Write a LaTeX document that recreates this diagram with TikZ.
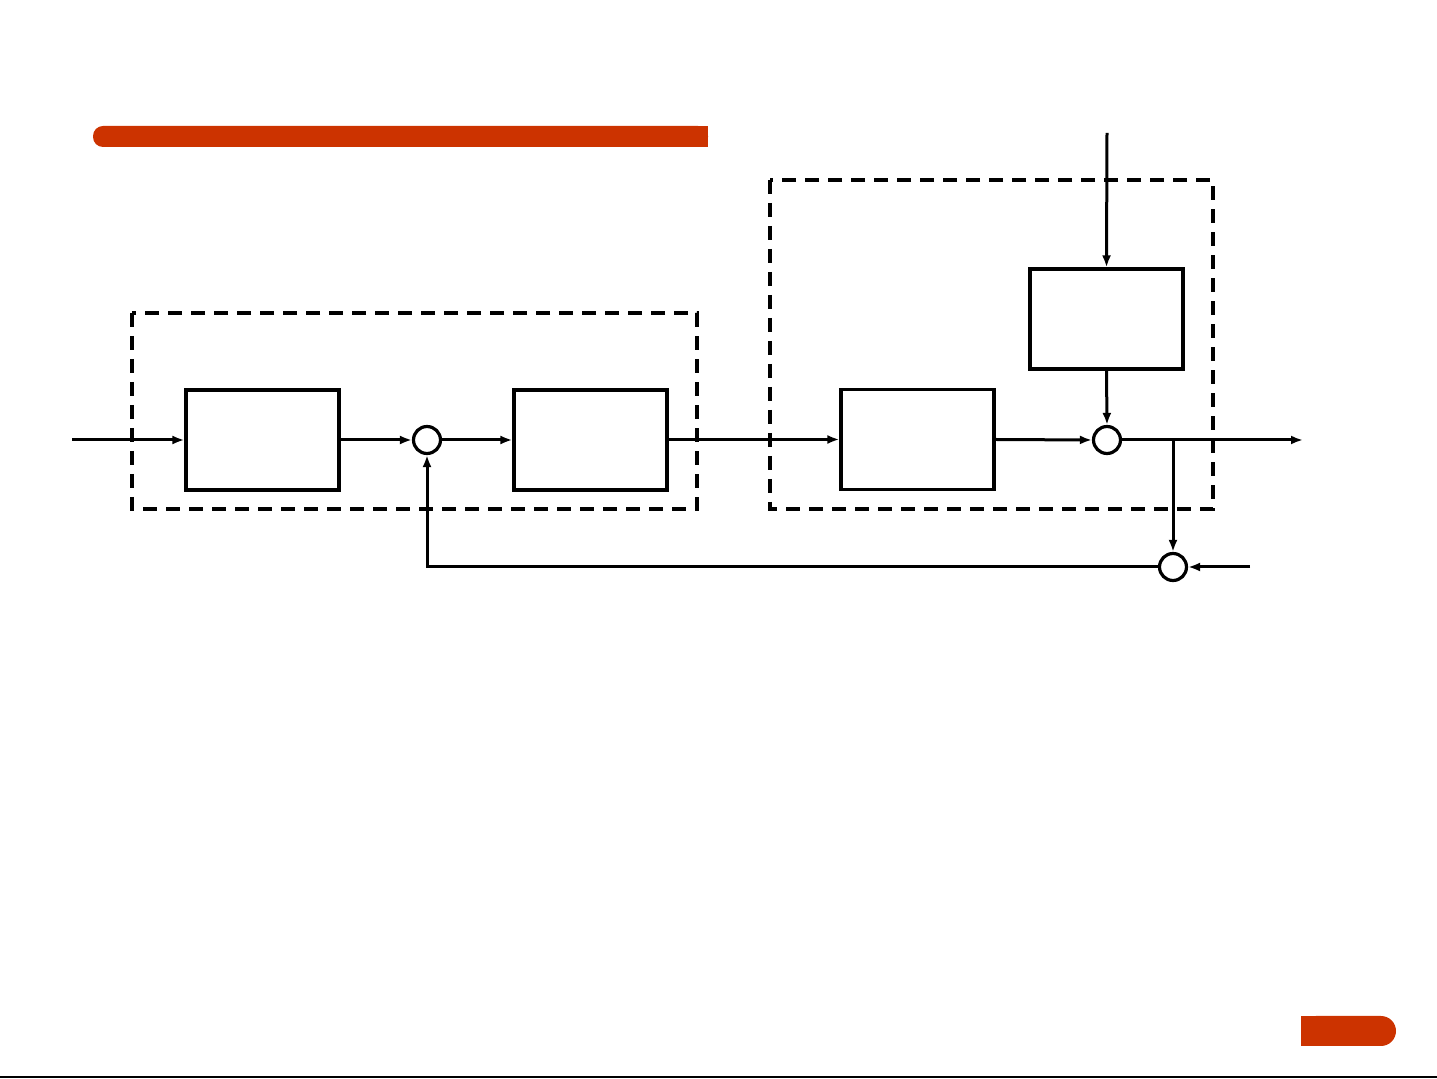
\documentclass[tikz,border=0pt]{standalone}
\usepackage{tikz}
\usetikzlibrary{calc,positioning,arrows.meta}
\definecolor{barorange}{HTML}{CC3300}
\tikzset{
  wire/.style={line width=1.5pt, -{Latex[length=6pt,width=4.5pt]}},
  blk/.style={draw, line width=1.6pt, minimum width=76.5pt, minimum height=50pt, inner sep=0pt},
  sumdot/.style={circle, draw, line width=1.6pt, fill=white, inner sep=0pt, minimum size=13.5pt},
  frame/.style={draw, line width=1.6pt, dash pattern=on 7pt off 4.5pt}
}
\begin{document}
\begin{tikzpicture}[x=0.5pt,y=-0.5pt]
  \useasboundingbox (0,0) rectangle (1437,1079);
  % decoration
  \fill[barorange, rounded corners=5pt] (93,126) rectangle (708,147);
  \fill[barorange] (400,126) rectangle (708,147);
  \fill[barorange, rounded corners=7.5pt] (1301,1016) rectangle (1396,1046);
  \fill[barorange] (1301,1016) rectangle (1350,1046);
  \draw[line width=1.2pt] (0,1077) -- (1437,1077);
  % dashed frames
  \draw[frame] (132,313) rectangle (697,509);
  \draw[frame] (770,180) rectangle (1213,509);
  % blocks
  \node[blk] (ctrl) at (262.5,440) {};
  \node[sumdot] (sum1) at (427,440) {};
  \node[blk] (act) at (590.5,440) {};
  \node[blk] (plant) at (917.5,439.5) {};
  \node[blk] (dist) at (1106.5,319) {};
  \node[sumdot] (sum2) at (1107,440) {};
  \node[sumdot] (sum3) at (1173,567) {};
  \coordinate (in) at (72,440);
  \coordinate (top) at (1107,133);
  \coordinate (out) at (1303,440);
  \coordinate (br) at (1173,440);
  \coordinate (noise) at (1250,567);
  % signals
  \draw[wire] (in) -- (ctrl.west);
  \draw[wire] (ctrl.east) -- (sum1.west);
  \draw[wire] (sum1.east) -- (act.west);
  \draw[wire] (act.east |- plant.west) -- (plant.west);
  \draw[wire] (plant.east) -- (sum2.west);
  \draw[wire] (top) -- (dist.north);
  \draw[wire] (dist.south) -- (sum2.north);
  \draw[wire] (sum2.east) -- (out);
  \draw[wire] (br) -- (sum3.north);
  \draw[wire] (noise) -- (sum3.east);
  \draw[wire] (sum3.west) -| (sum1.south);
\end{tikzpicture}
\end{document}
